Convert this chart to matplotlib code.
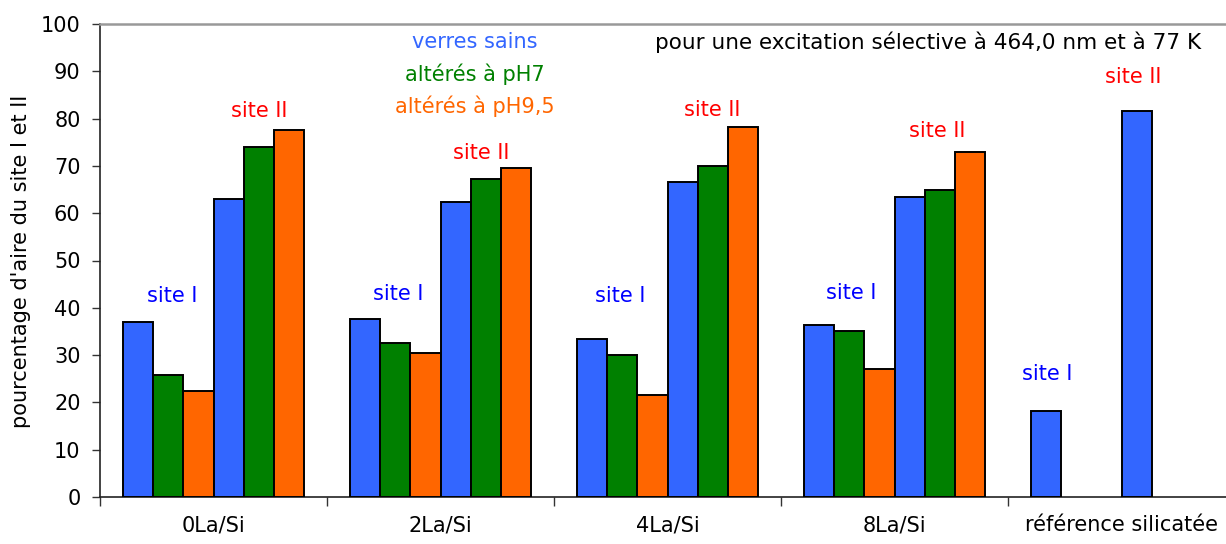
import numpy as np
import matplotlib
matplotlib.use("Agg")
import matplotlib.pyplot as plt

plt.rcParams['font.family'] = ['DejaVu Sans']

# ---- data ----
categories = ['0La/Si', '2La/Si', '4La/Si', '8La/Si', 'référence silicatée']
nan = np.nan
sains_site1 = [36.9, 37.7, 33.5, 36.4, 18.2]
ph7_site1 = [25.8, 32.6, 30.1, 35.2, nan]
ph95_site1 = [22.5, 30.5, 21.6, 27.1, nan]
sains_site2 = [63.1, 62.3, 66.5, 63.5, 81.7]
ph7_site2 = [74.1, 67.3, 69.9, 64.8, nan]
ph95_site2 = [77.5, 69.5, 78.3, 72.9, nan]
y_ticks = list(range(0, 101, 10))

series = [sains_site1, ph7_site1, ph95_site1, sains_site2, ph7_site2, ph95_site2]
BLUE, GREEN, ORANGE = '#3366FF', '#008000', '#FF6600'
colors = [BLUE, GREEN, ORANGE, BLUE, GREEN, ORANGE]

# annotation label positions (data coordinates)
site1_labels = [(-0.183, 42.5), (0.813, 42.9), (1.791, 42.5), (2.808, 43.1), (3.672, 26.0)]
site2_labels = [(0.200, 81.6), (1.178, 72.7), (2.196, 81.8), (3.187, 77.4), (4.051, 88.8)]

FS = 15
W, H = 1226, 544
fig = plt.figure(figsize=(W / 100, H / 100), dpi=100)
ax = fig.add_axes([100 / W, 47 / H, 1135 / W, 473 / H])

n = len(series)
bw = 1 / 7.5
x = np.arange(len(categories))
for i, (vals, c) in enumerate(zip(series, colors)):
    ax.bar(x + (i - (n - 1) / 2) * bw, vals, width=bw, color=c,
           edgecolor='black', linewidth=1.4, zorder=3)

ax.set_xlim(-0.5, len(categories) - 0.5)
ax.set_ylim(0, 100)
ax.set_yticks(y_ticks)
ax.tick_params(axis='y', direction='out', length=6, width=1, pad=8,
               labelsize=FS, color='#333333')

ax.set_xticks(np.arange(len(categories) + 1) - 0.5)
ax.set_xticklabels([])
ax.tick_params(axis='x', which='major', direction='out', length=6.5, width=1, color='#333333')
ax.set_xticks(x, minor=True)
ax.set_xticklabels(categories, minor=True)
ax.tick_params(axis='x', which='minor', length=0, pad=13, labelsize=FS)

for s in ['left', 'bottom']:
    ax.spines[s].set_color('#222222')
    ax.spines[s].set_linewidth(1.2)
ax.spines['top'].set_color('#999999')
ax.spines['top'].set_linewidth(1.8)
ax.spines['right'].set_visible(False)

fig.text(21 / W, (544 - 261) / H, "pourcentage d'aire du site I et II",
         rotation=90, ha='center', va='center', fontsize=FS)

for (lx, ly) in site1_labels:
    ax.text(lx, ly, 'site I', color='#0000FF', fontsize=FS, ha='center', va='center')
for (lx, ly) in site2_labels:
    ax.text(lx, ly, 'site II', color='#FF0000', fontsize=FS, ha='center', va='center')

ax.text(1.152, 96.1, 'verres sains', color=BLUE, fontsize=FS, ha='center', va='center')
ax.text(1.152, 89.4, 'altérés à pH7', color=GREEN, fontsize=FS, ha='center', va='center')
ax.text(1.152, 82.7, 'altérés à pH9,5', color=ORANGE, fontsize=FS, ha='center', va='center')
ax.text(3.148, 96.2, 'pour une excitation sélective à 464,0 nm et à 77 K', color='black',
        fontsize=15.5, ha='center', va='center')

fig.savefig('out.png', dpi=100)
